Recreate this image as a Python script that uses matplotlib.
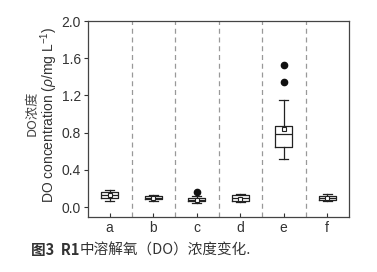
import numpy as np
import matplotlib
matplotlib.use('Agg')
import matplotlib.pyplot as plt

plt.rcParams['font.family'] = ['Liberation Sans', 'Noto Sans CJK SC', 'DejaVu Sans']
plt.rcParams['mathtext.fontset'] = 'custom'
plt.rcParams['mathtext.rm'] = 'Liberation Sans'
plt.rcParams['mathtext.it'] = 'Liberation Sans:italic'

# box statistics
groups = ['a', 'b', 'c', 'd', 'e', 'f']
whislo = [0.07, 0.06, 0.04, 0.05, 0.52, 0.06]
q1 = [0.10, 0.085, 0.06, 0.07, 0.65, 0.08]
med = [0.13, 0.10, 0.08, 0.10, 0.78, 0.10]
q3 = [0.16, 0.12, 0.10, 0.13, 0.875, 0.115]
whishi = [0.18, 0.13, 0.12, 0.14, 1.15, 0.14]
means = [0.13, 0.10, 0.08, 0.09, 0.84, 0.10]
fliers = [[], [], [0.16], [], [1.345, 1.53], []]
yticks = [0.0, 0.4, 0.8, 1.2, 1.6, 2.0]

stats = []
for i in range(len(groups)):
    stats.append({'label': groups[i], 'whislo': whislo[i], 'q1': q1[i], 'med': med[i],
                  'q3': q3[i], 'whishi': whishi[i], 'mean': means[i], 'fliers': fliers[i]})

fig = plt.figure(figsize=(3.77, 2.72), dpi=100)
ax = fig.add_axes([88 / 377, 1 - 217 / 272, 261 / 377, 196 / 272])

lc = '#222222'
ax.bxp(stats, positions=range(1, 7), widths=0.4, showmeans=True, patch_artist=False,
       boxprops=dict(color=lc, linewidth=0.9),
       medianprops=dict(color=lc, linewidth=0.9),
       whiskerprops=dict(color=lc, linewidth=0.9),
       capprops=dict(color=lc, linewidth=0.9),
       meanprops=dict(marker='s', markersize=3.5, markerfacecolor='white',
                      markeredgecolor=lc, markeredgewidth=0.8),
       flierprops=dict(marker='o', markersize=4.5, markerfacecolor='#111111',
                       markeredgecolor='#111111'))

# dashed separators between groups
for x in np.arange(1.5, 6.5, 1.0):
    ax.axvline(x, color='#999999', linestyle=(0, (4, 3)), linewidth=0.9)

ax.set_xlim(0.5, 6.5)
ax.set_ylim(-0.107, 2.0)
ax.set_yticks(yticks)
ax.set_yticklabels(['%.1f' % v for v in yticks])
ax.set_xticks(range(1, 7))
ax.set_xticklabels(groups)
ax.tick_params(axis='y', direction='out', length=3, width=0.8, labelsize=10, colors='#333333', pad=2)
ax.tick_params(axis='x', direction='in', length=3, width=0.8, labelsize=10, colors='#333333', pad=3)
for s in ax.spines.values():
    s.set_color('#444444')
    s.set_linewidth(0.9)

# y label, two lines
cjk = ['Noto Sans CJK SC', 'DejaVu Sans']
fig.text(32 / 377, 1 - 113 / 272, 'DO浓度', rotation=90, ha='center', va='center',
         fontsize=9.5, color='#444444', family=cjk)
fig.text(49 / 377, 1 - 115 / 272, 'DO concentration ($\\it{\\rho}$/mg L$^{-1}$)',
         rotation=90, ha='center', va='center', fontsize=10, color='#333333')

# caption: bold part then regular part on the same baseline
cap_y = 1 - 255 / 272
t1 = fig.text(31 / 377, cap_y, '图3  R1', ha='left', va='baseline', fontsize=10.5,
              fontweight='bold', color='#333333', family=cjk)
fig.canvas.draw()
bb = t1.get_window_extent()
fig.text(bb.x1 / fig.bbox.width, cap_y, '中溶解氧（DO）浓度变化.', ha='left', va='baseline',
         fontsize=10.5, color='#333333', family=cjk)

plt.savefig('out.png', dpi=100)
plt.close(fig)
